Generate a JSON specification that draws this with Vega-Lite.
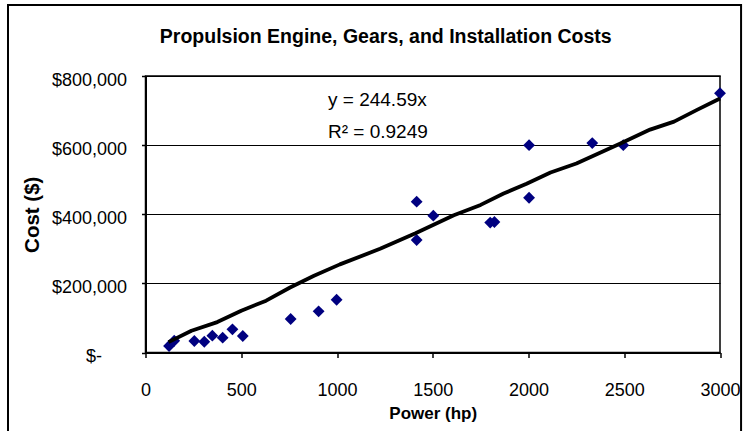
{
  "$schema": "https://vega.github.io/schema/vega-lite/v6.json",
  "width": 574.5,
  "height": 276.5,
  "autosize": {"type": "none"},
  "padding": {"left": 145.5, "top": 76, "right": 28, "bottom": 78.5},
  "background": "white",
  "config": {
    "font": "Liberation Sans, Arial, sans-serif",
    "view": {"stroke": "black", "strokeWidth": 1.5}
  },
  "title": {
    "text": "Propulsion Engine, Gears, and Installation Costs",
    "font": "Liberation Sans, Arial, sans-serif",
    "fontSize": 19.5,
    "fontWeight": "bold",
    "color": "black",
    "anchor": "middle",
    "frame": "group",
    "dx": -47,
    "offset": -44
  },
  "datasets": {
    "points": [
      {"power": 123, "cost": 18800},
      {"power": 150, "cost": 34100},
      {"power": 255, "cost": 33300},
      {"power": 307, "cost": 31200},
      {"power": 349, "cost": 48600},
      {"power": 403, "cost": 42800},
      {"power": 454, "cost": 67100},
      {"power": 508, "cost": 47700},
      {"power": 758, "cost": 96900},
      {"power": 904, "cost": 119200},
      {"power": 998, "cost": 152700},
      {"power": 1416, "cost": 436300},
      {"power": 1416, "cost": 325500},
      {"power": 1503, "cost": 395800},
      {"power": 1800, "cost": 376000},
      {"power": 1822, "cost": 377500},
      {"power": 2003, "cost": 447800},
      {"power": 2003, "cost": 600000},
      {"power": 2333, "cost": 606000},
      {"power": 2495, "cost": 600000},
      {"power": 3000, "cost": 750000}
    ],
    "trend": [
      {"power": 120, "cost": 29900},
      {"power": 240, "cost": 63000},
      {"power": 375, "cost": 88000},
      {"power": 500, "cost": 121000},
      {"power": 630, "cost": 150000},
      {"power": 755, "cost": 188000},
      {"power": 880, "cost": 222000},
      {"power": 1015, "cost": 255000},
      {"power": 1225, "cost": 300000},
      {"power": 1410, "cost": 345000},
      {"power": 1610, "cost": 397000},
      {"power": 1750, "cost": 427000},
      {"power": 1870, "cost": 460000},
      {"power": 1990, "cost": 488000},
      {"power": 2115, "cost": 521000},
      {"power": 2250, "cost": 547000},
      {"power": 2480, "cost": 605000},
      {"power": 2635, "cost": 645000},
      {"power": 2760, "cost": 668000},
      {"power": 2880, "cost": 702000},
      {"power": 3000, "cost": 735000}
    ],
    "notes": [
      {"power": 953, "cost": 730000, "label": "y = 244.59x"},
      {"power": 953, "cost": 638000, "label": "R² = 0.9249"}
    ]
  },
  "layer": [
    {
      "data": {"name": "points"},
      "mark": {"type": "point", "shape": "diamond", "filled": true, "size": 140, "color": "#000080", "opacity": 1},
      "encoding": {
        "x": {
          "field": "power", "type": "quantitative",
          "scale": {"domain": [0, 3000], "nice": false, "zero": true},
          "axis": {
            "values": [0, 500, 1000, 1500, 2000, 2500, 3000],
            "format": "d",
            "title": "Power (hp)",
            "titleFont": "Liberation Sans, Arial, sans-serif",
            "titleFontSize": 17,
            "titleFontWeight": "bold",
            "titleColor": "black",
            "titlePadding": 6,
            "labelFont": "Liberation Sans, Arial, sans-serif",
            "labelFontSize": 18,
            "labelColor": "black",
            "labelPadding": 24,
            "labelFlush": false,
            "domainColor": "black",
            "domainWidth": 2,
            "tickColor": "black",
            "tickWidth": 1.5,
            "tickSize": 5,
            "grid": false
          }
        },
        "y": {
          "field": "cost", "type": "quantitative",
          "scale": {"domain": [0, 800000], "nice": false},
          "axis": {
            "values": [0, 200000, 400000, 600000, 800000],
            "labelExpr": "datum.value == 0 ? '$-' : '$' + format(datum.value, ',')",
            "title": "Cost ($)",
            "titleFont": "Liberation Sans, Arial, sans-serif",
            "titleFontSize": 20.5,
            "titleFontWeight": "bold",
            "titleColor": "black",
            "titlePadding": 9,
            "labelFont": "Liberation Sans, Arial, sans-serif",
            "labelFontSize": 18,
            "labelColor": "black",
            "labelPadding": {"condition": {"test": "datum.value == 0", "value": 40}, "value": 15},
            "labelOffset": 4,
            "labelFlush": false,
            "domainColor": "black",
            "domainWidth": 2,
            "tickColor": "black",
            "tickWidth": 1.5,
            "tickSize": 4,
            "grid": true,
            "gridColor": "black",
            "gridWidth": 1,
            "gridOpacity": 1
          }
        }
      }
    },
    {
      "data": {"name": "trend"},
      "mark": {"type": "line", "color": "black", "strokeWidth": 3.8, "strokeJoin": "round"},
      "encoding": {
        "x": {"field": "power", "type": "quantitative"},
        "y": {"field": "cost", "type": "quantitative"}
      }
    },
    {
      "data": {"name": "notes"},
      "mark": {"type": "text", "align": "left", "baseline": "middle", "fontSize": 19, "font": "Liberation Sans, Arial, sans-serif", "color": "black"},
      "encoding": {
        "x": {"field": "power", "type": "quantitative"},
        "y": {"field": "cost", "type": "quantitative"},
        "text": {"field": "label"}
      }
    },
    {
      "data": {"values": [{}]},
      "mark": {"type": "rect", "fill": null, "stroke": "black", "strokeWidth": 2, "clip": false},
      "encoding": {
        "x": {"datum": -718, "type": "quantitative"},
        "x2": {"datum": 3110},
        "y": {"datum": 1005500, "type": "quantitative"},
        "y2": {"datum": -253000}
      }
    }
  ]
}
